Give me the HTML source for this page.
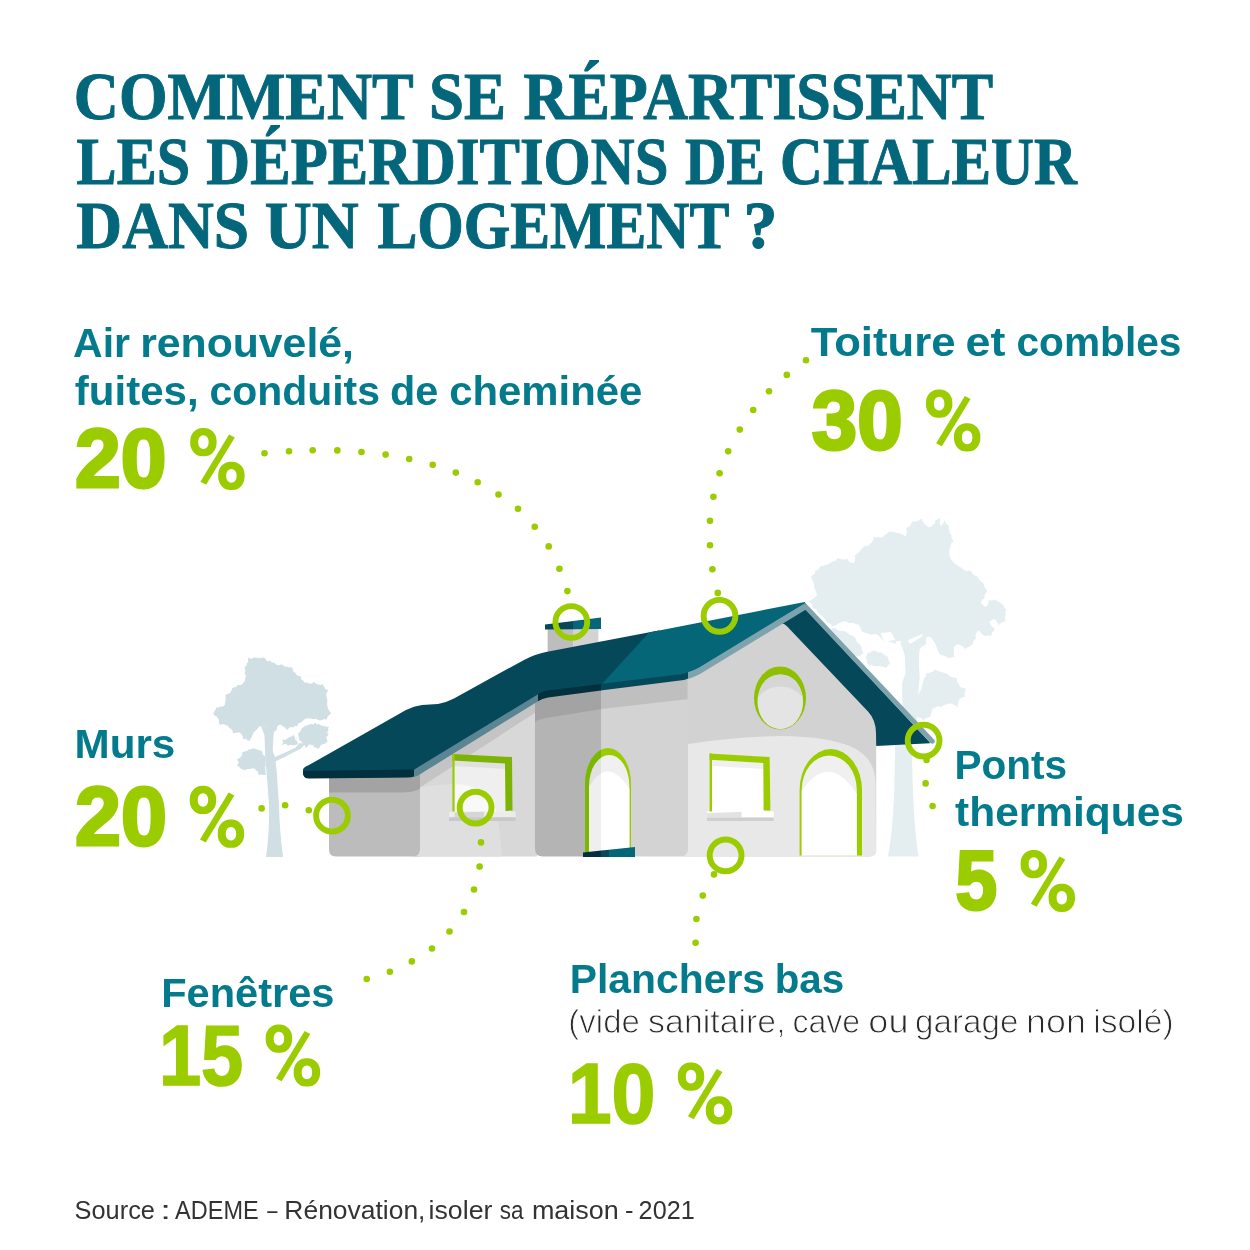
<!DOCTYPE html>
<html lang="fr"><head><meta charset="utf-8"><title>Comment se répartissent les déperditions de chaleur dans un logement ?</title>
<style>
html,body{margin:0;padding:0;background:#fff;}
body{width:1250px;height:1250px;overflow:hidden;font-family:"Liberation Sans",sans-serif;}
svg{display:block;will-change:transform;}
.title{font-family:"Liberation Serif",serif;font-weight:bold;font-size:66.6px;fill:#04667a;stroke:#04667a;stroke-width:1px;}
.label{font-family:"Liberation Sans",sans-serif;font-weight:bold;font-size:41.3px;fill:#047b8d;}
.num{font-family:"Liberation Sans",sans-serif;font-weight:bold;font-size:83px;fill:#9acc00;stroke:#9acc00;stroke-width:3px;}
.num2{font-family:"Liberation Sans",sans-serif;font-weight:bold;font-size:84.6px;fill:#9acc00;stroke:#9acc00;stroke-width:1.6px;}
.sub{font-family:"Liberation Sans",sans-serif;font-weight:normal;font-size:33px;fill:#2a2a2a;stroke:#fff;stroke-width:0.9px;}
.src{font-family:"Liberation Sans",sans-serif;font-weight:normal;font-size:26.7px;fill:#333;}
.pct{font-family:"Liberation Sans",sans-serif;font-weight:bold;font-size:70px;fill:none;stroke:none;}
</style></head><body>
<svg width="1250" height="1250" viewBox="0 0 1250 1250">
<rect width="1250" height="1250" fill="#fff"/>
<!-- right tree -->
<g fill="#e4edf0">
<path d="M814.0,587.7 L815.3,589.7 L815.9,592.0 L816.9,594.1 L816.5,596.1 L814.5,597.6 L812.5,599.1 L810.5,600.6 L807.9,600.9 L809.9,602.2 L811.7,603.8 L812.3,606.3 L813.4,608.4 L816.3,609.0 L817.1,611.4 L818.7,613.0 L820.1,614.9 L822.2,616.1 L823.6,618.0 L825.2,619.6 L826.7,621.5 L828.6,622.9 L830.7,624.1 L831.8,626.8 L834.3,625.8 L836.6,624.7 L838.9,623.3 L841.2,621.9 L844.1,621.3 L846.5,621.4 L848.7,623.0 L851.1,623.1 L853.5,623.1 L855.7,624.3 L858.3,624.6 L859.7,626.8 L861.0,629.1 L861.8,631.1 L863.9,632.3 L866.1,633.3 L868.5,633.5 L870.4,634.8 L873.0,634.5 L875.7,634.0 L878.3,635.2 L879.8,636.9 L881.5,638.5 L882.7,640.5 L885.1,641.3 L887.9,640.9 L890.2,642.1 L892.7,642.8 L895.1,644.1 L896.5,641.3 L899.1,640.7 L901.7,641.5 L902.4,643.7 L903.6,645.6 L905.2,647.2 L907.3,648.3 L908.8,650.1 L910.0,651.6 L912.1,651.0 L914.4,651.1 L916.5,650.4 L918.4,650.7 L920.2,649.0 L921.5,646.8 L923.9,645.6 L926.2,644.1 L925.9,641.6 L925.8,639.3 L926.7,636.8 L929.0,636.7 L931.7,637.6 L932.3,639.8 L934.1,641.4 L935.0,643.5 L936.0,645.6 L937.2,648.2 L938.2,650.9 L939.1,653.6 L941.2,654.9 L943.6,655.6 L946.0,656.3 L947.8,658.1 L950.2,657.8 L952.5,657.0 L955.0,657.2 L953.6,654.9 L953.8,652.5 L953.7,650.0 L953.9,647.5 L955.7,645.2 L958.3,644.1 L961.0,645.4 L963.4,647.1 L965.1,648.9 L967.1,647.5 L969.4,646.7 L971.1,644.9 L972.8,643.7 L973.5,640.8 L976.0,638.8 L975.5,635.9 L976.1,633.2 L978.1,630.4 L980.5,632.1 L982.4,634.4 L984.8,636.1 L987.9,635.4 L990.9,636.1 L991.7,633.8 L992.8,631.7 L994.8,629.8 L993.3,627.7 L991.5,625.8 L990.1,623.7 L989.3,621.4 L991.4,620.2 L993.9,619.1 L996.0,620.5 L997.4,622.7 L999.0,624.9 L1000.8,623.2 L1002.8,622.0 L1005.5,621.2 L1004.8,618.9 L1005.2,616.6 L1005.6,614.3 L1005.3,612.0 L1006.3,609.4 L1004.5,607.8 L1003.6,605.6 L1002.1,604.2 L1000.1,602.4 L997.7,601.4 L995.4,599.4 L993.0,599.9 L990.7,600.8 L988.1,599.9 L988.8,602.6 L987.6,604.8 L987.0,606.6 L984.2,606.4 L982.6,604.7 L980.8,602.3 L982.2,599.8 L984.4,598.2 L984.3,595.4 L986.2,593.1 L987.1,590.2 L984.9,588.3 L984.0,585.8 L983.2,583.1 L981.2,581.8 L979.4,580.3 L978.3,578.2 L977.0,576.2 L974.3,575.2 L972.3,573.3 L970.7,570.8 L968.0,570.8 L965.2,570.7 L962.9,569.1 L960.9,567.6 L958.8,566.2 L956.7,564.8 L954.4,563.4 L952.9,561.4 L951.1,559.6 L949.9,557.0 L949.3,554.4 L949.3,551.7 L949.9,549.1 L950.4,546.2 L951.2,543.4 L953.4,541.0 L951.7,538.6 L951.4,535.8 L950.0,533.6 L949.4,531.1 L948.7,528.7 L949.0,525.9 L946.8,524.4 L945.3,522.4 L944.3,520.0 L943.6,522.6 L942.2,524.8 L941.1,527.0 L940.6,524.8 L939.6,522.7 L940.1,520.4 L939.6,517.6 L937.7,519.4 L935.2,520.6 L935.0,523.5 L932.6,525.0 L931.3,526.6 L928.6,527.3 L926.7,526.0 L924.8,524.5 L923.6,522.4 L922.3,520.5 L921.5,518.5 L919.5,519.9 L917.4,521.0 L915.2,521.8 L912.3,521.4 L911.0,523.4 L910.3,525.9 L908.1,527.1 L905.9,528.7 L907.2,531.5 L906.3,534.1 L905.6,536.8 L903.3,535.1 L900.9,533.8 L898.5,533.0 L896.3,532.9 L894.2,532.0 L892.0,532.0 L889.8,531.4 L888.0,532.7 L886.4,534.3 L884.4,535.2 L882.7,536.9 L880.5,537.8 L878.3,537.1 L876.1,537.8 L873.8,536.7 L873.2,539.4 L872.3,542.1 L870.3,543.4 L868.7,545.2 L866.6,546.1 L864.1,546.3 L862.5,548.2 L860.6,549.8 L859.5,552.1 L856.8,553.8 L854.6,556.0 L855.1,558.5 L854.7,560.8 L853.8,563.0 L851.3,562.6 L849.1,561.7 L847.5,559.1 L845.1,559.5 L842.6,559.6 L840.2,559.1 L837.5,558.1 L835.8,560.8 L833.1,561.5 L830.6,562.7 L828.2,564.2 L825.6,565.0 L823.0,565.7 L820.5,566.0 L819.2,567.9 L818.1,569.9 L815.3,570.6 L815.1,573.4 L813.1,574.8 L811.3,576.3 L811.7,578.6 L812.7,580.8 L813.8,583.0 L814.1,585.3 Z"/>
<path d="M828.0,632.0 L829.9,633.4 L831.2,635.3 L832.9,636.7 L834.5,638.4 L836.2,639.9 L838.1,641.2 L839.0,643.5 L840.8,644.9 L842.3,646.6 L844.3,647.8 L845.7,649.7 L847.7,650.9 L848.5,653.3 L850.0,655.3 L852.6,654.3 L854.9,655.7 L857.3,656.3 L859.9,656.6 L861.7,654.2 L863.8,653.0 L862.2,650.9 L862.0,648.3 L861.1,646.2 L859.6,644.5 L858.0,642.9 L856.4,641.3 L855.7,639.0 L854.6,637.1 L852.4,635.6 L849.9,634.9 L847.9,633.2 L845.8,631.7 L843.3,631.1 L840.7,630.9 L838.1,630.5 L836.0,628.6 L833.0,627.6 L831.6,629.5 L829.9,630.9 Z"/>
<path d="M867.8,664.3 L870.5,664.9 L873.2,665.7 L875.7,666.4 L878.4,666.0 L881.0,666.5 L883.6,666.8 L886.5,668.1 L887.7,665.4 L889.9,663.4 L888.8,661.2 L888.3,658.8 L887.7,656.8 L884.9,655.2 L882.6,653.3 L880.5,652.0 L877.9,652.7 L876.1,650.8 L874.1,650.7 L872.0,651.3 L870.1,652.6 L867.9,652.9 L866.6,655.5 L865.7,657.8 L867.1,659.7 L866.9,662.2 Z"/>
<path d="M916.5,700.0 L916.4,702.3 L916.6,704.6 L916.0,706.9 L916.9,709.2 L917.2,711.5 L917.2,713.8 L916.4,715.8 L918.6,717.4 L921.4,718.1 L923.2,720.5 L925.1,718.5 L927.5,717.4 L930.1,717.0 L931.0,714.3 L931.6,711.6 L932.7,708.5 L935.3,707.4 L937.8,706.3 L941.0,706.9 L942.9,705.8 L945.0,704.8 L947.1,704.2 L949.3,703.6 L951.0,703.4 L953.5,704.6 L956.0,705.8 L958.0,708.3 L957.5,705.9 L958.1,703.7 L958.5,701.5 L959.3,699.3 L961.0,697.9 L963.1,697.1 L965.1,696.8 L964.3,694.2 L965.3,691.5 L965.5,688.5 L962.8,688.0 L960.4,687.0 L959.0,685.0 L958.1,682.8 L956.6,680.9 L956.7,678.1 L954.3,677.7 L951.9,677.2 L949.8,676.1 L948.0,674.4 L946.0,673.4 L943.8,672.8 L941.7,672.1 L939.5,671.6 L937.3,671.1 L935.5,669.5 L933.4,671.2 L931.0,672.2 L928.5,673.0 L926.0,673.2 L926.2,675.6 L924.9,677.6 L923.7,679.6 L923.3,682.0 L922.5,684.2 L921.5,686.4 L921.6,689.1 L920.2,691.1 L918.8,693.2 L918.1,695.5 L917.3,697.8 Z"/>
<path d="M900,642 L904.7,654.6 L905.6,673 L902,683.6 L903,722 L917,722 L917,708 L919.7,677.5 L918.8,663.4 L919.5,648 Z"/>
<path d="M880.500,633 L891,632 L895.500,640 L884,641.500 Z M907.500,640.500 L923,633.500 L921.500,637 L910,644 Z" fill="#fff"/>
<path d="M895,745 L912,745 Q912.5,820 918.5,856.5 L888,856.5 Q895,820 895,745 Z"/>
</g>
<!-- left tree -->
<g fill="#cfdfe4">
<path d="M244.3,667.5 L245.3,669.5 L245.3,671.5 L244.6,673.5 L245.8,675.5 L245.5,677.5 L244.9,679.5 L244.7,680.9 L243.3,682.7 L241.9,684.5 L239.9,685.1 L237.6,685.0 L236.3,687.1 L234.2,687.2 L232.2,688.2 L231.6,690.6 L230.4,692.4 L228.7,693.7 L226.3,694.3 L225.3,696.0 L225.7,698.1 L225.6,700.2 L225.0,702.4 L225.0,704.5 L223.0,706.4 L220.4,706.4 L218.2,707.7 L216.2,707.3 L215.8,709.6 L214.2,711.5 L213.3,713.3 L214.2,715.3 L216.4,716.5 L217.8,718.2 L219.0,720.0 L218.9,722.6 L219.8,725.1 L222.8,724.0 L225.3,724.7 L228.2,725.9 L229.1,727.9 L231.1,729.0 L232.6,730.6 L233.0,733.3 L235.2,732.9 L237.4,732.6 L239.5,732.6 L241.3,734.1 L242.9,736.6 L243.0,739.4 L245.4,738.5 L247.3,740.2 L250.0,740.9 L250.5,738.7 L251.8,737.2 L252.3,735.1 L253.3,733.3 L254.5,731.5 L256.4,730.1 L257.7,728.2 L259.4,726.6 L261.0,726.3 L263.4,726.7 L266.0,726.5 L267.1,729.0 L269.1,729.1 L271.2,729.9 L273.5,729.6 L275.9,731.2 L276.8,728.9 L277.3,726.4 L278.7,724.9 L281.7,724.8 L283.1,726.8 L285.4,727.6 L286.5,729.9 L288.5,728.6 L290.4,727.1 L293.0,727.6 L294.9,726.0 L297.2,726.2 L298.3,723.6 L300.9,722.5 L302.9,720.7 L305.1,718.9 L307.6,718.2 L310.6,718.5 L313.2,719.0 L315.9,718.8 L317.9,720.1 L320.2,720.5 L322.4,719.7 L324.6,719.0 L326.7,719.8 L327.4,717.1 L329.1,715.0 L331.3,713.6 L329.7,711.7 L328.5,709.6 L327.6,707.4 L327.1,705.0 L327.1,702.5 L327.5,700.5 L326.9,698.5 L326.6,696.4 L326.1,694.4 L326.9,692.4 L328.2,690.3 L325.5,689.3 L324.3,686.9 L322.7,684.3 L320.1,685.1 L317.9,684.5 L315.8,683.6 L314.0,681.7 L311.9,683.5 L309.6,683.7 L307.2,682.6 L304.8,683.1 L303.6,680.9 L301.3,679.5 L300.9,676.6 L298.6,675.8 L296.3,674.8 L295.3,672.7 L293.3,671.5 L292.8,668.8 L291.1,667.1 L288.9,667.4 L287.0,666.5 L284.8,666.7 L283.1,665.1 L281.1,664.6 L278.4,665.3 L276.1,664.6 L274.3,662.7 L271.7,662.6 L270.0,660.6 L267.0,661.2 L265.6,658.7 L263.5,657.3 L261.5,658.0 L259.5,657.9 L257.5,657.8 L255.5,657.8 L253.5,657.4 L251.4,658.9 L248.7,657.4 L248.0,659.4 L248.3,661.9 L246.7,663.5 L246.4,665.7 Z"/>
<path d="M303.5,726.9 L301.8,728.5 L300.7,730.6 L299.4,732.5 L298.0,733.8 L298.8,736.7 L299.0,739.8 L300.9,741.1 L302.3,742.8 L303.9,744.3 L305.2,746.0 L305.5,748.3 L306.1,750.6 L305.5,748.1 L307.5,746.8 L308.7,744.5 L310.7,744.8 L312.9,744.9 L314.2,747.2 L316.1,747.8 L318.4,749.1 L319.7,747.2 L320.8,744.9 L322.8,744.3 L324.9,743.7 L326.3,742.9 L327.5,741.0 L326.5,738.7 L326.6,736.7 L328.6,734.8 L327.0,732.5 L328.5,730.6 L328.1,728.5 L329.0,726.4 L326.8,726.9 L324.8,726.3 L322.8,725.9 L320.7,725.6 L319.0,724.1 L316.7,724.6 L314.9,722.5 L313.3,724.5 L311.0,724.0 L309.0,724.8 L307.1,725.6 L305.0,725.9 Z"/>
<path d="M281.9,745.8 L284.1,744.1 L286.2,743.8 L288.0,745.7 L290.1,744.8 L291.9,745.3 L294.4,745.2 L296.9,744.4 L300.1,744.6 L297.6,743.6 L297.3,741.2 L295.3,739.8 L294.8,737.5 L293.7,734.8 L291.8,736.4 L289.6,737.1 L287.5,738.3 L285.6,739.9 L282.3,739.4 L283.1,742.4 Z"/>
<path d="M237.0,765.5 L239.3,766.9 L241.2,768.7 L242.9,769.8 L245.3,769.9 L247.5,769.0 L249.8,768.9 L252.1,768.2 L255.0,768.7 L256.2,770.4 L257.9,771.8 L258.4,773.9 L258.9,775.2 L261.1,774.2 L263.6,775.0 L265.9,775.0 L265.4,772.9 L265.6,770.8 L265.2,768.6 L265.2,766.5 L265.9,764.4 L265.4,762.2 L265.7,760.1 L266.2,757.9 L265.1,756.0 L262.8,754.8 L262.5,752.4 L261.4,750.7 L259.3,750.2 L257.3,749.5 L255.2,749.1 L253.8,748.2 L251.5,748.9 L249.2,749.6 L247.1,750.8 L244.9,751.6 L242.3,751.9 L242.2,754.5 L241.2,756.5 L239.5,758.1 L236.9,759.5 L238.9,762.2 Z"/>
<path d="M266,857 L283,857 Q279.5,830 279,805.5 L276.5,769 L275.5,761.5 L288.5,755 L301,748.5 L305,744 L300,743 L295,748 L284,753 L275,757 L272.7,750.5 L273.6,734 L275.5,728 L261,726 L264.5,735.5 L265.3,758 L267.2,780 L269,805.5 Q269.5,835 266,857 Z"/>
</g>
<defs>
<clipPath id="cl"><rect x="570" y="740" width="31" height="120"/></clipPath>
<clipPath id="cr"><rect x="601" y="740" width="40" height="120"/></clipPath>
</defs>
<!-- chimney -->
<path d="M547.600,628 H573.500 V660 H547.600 Z" fill="#bdbdbd"/>
<path d="M573,628 H598.400 V655 H573 Z" fill="#d3d3d3"/>
<path d="M545,624.400 L573.500,621 V629.300 L545,629.600 Z" fill="#04485a"/>
<path d="M573,621 L601,617.600 V629 L573,629.300 Z" fill="#056678"/>
<!-- walls -->
<path d="M329,774 H421 V856.500 H336 Q329,856.500 329,849.500 Z" fill="#bcbcbc"/>
<path d="M329,774 H421 V788 Q415,792.500 400,792.500 H329 Z" fill="#a3a3a3"/>
<path d="M420,856.500 Q413,856.500 413,849.500 V856.500 Z" fill="#bcbcbc"/>
<path d="M420,772 L537,696 V856.500 H413 Q420,856.500 420,849 Z" fill="#d8d8d8"/>
<path d="M420,787.500 Q440,784 461,784 Q482,785 494,806 Q500,820 501.800,856.500 H413 Q420,856.500 420,849 Z" fill="#dfdfdf"/>
<path d="M420,772 L537,696 V711.500 L420,787.500 Z" fill="#c4c4c4"/>
<!-- tower -->
<path d="M535,696 L548,689 L602,682 V856.500 H543 Q535,856.500 535,848.500 Z" fill="#b4b4b4"/>
<path d="M601,682 L689,670 V856.500 H601 Z" fill="#d3d3d3"/>
<path d="M535,696 L548,689 L602,682 V709 L546,718 Q538,719.500 535,722 Z" fill="#a3a3a3"/>
<path d="M601,682 L689,670 V699 L601,709 Z" fill="#bfbfbf"/>
<!-- gable wall -->
<path d="M687.500,670 L700,665 L783,616 L794,625 L871,710.500 Q878,719.500 878,733 V744 H876.200 V850 Q876,856.500 869.500,856.500 H688 Z" fill="#d2d2d2"/>
<!-- bay -->
<path d="M688,744 Q735,736.500 782,736 Q828,736.500 852,747 Q874,757 875.500,781 L876,850 Q876,856.500 869.500,856.500 H680 Q688,856.500 688,848.500 Z" fill="#e8e8e8"/>
<!-- right dark roof -->
<path d="M805.600,609 L929.500,741.900 L930,743.300 L876.200,746 L876,733 Q875.900,719.800 868,711.400 L787.200,626.400 Q785,624 782.500,623.600 L800,608 Z" fill="#04485a"/>
<path d="M804.600,602.100 L934,739.600 Q936,742 933.500,743.500 Q931,744.500 929.500,742 L805.600,610.100 L802,607 Z" fill="#7fa3ad"/>
<!-- dark left roof (extends under light roof) -->
<path d="M303,770.500 Q302.500,768 308,765.600 L406,710 Q414,706 422,705 Q430,704.600 438,704 Q446,702.500 454,698.400 L500,673 L524,660 Q534,654.500 546,652 L660,630.200 L610,684 L548,691.600 Q542,692.500 538,695.200 L414,771 L410,777 L308,778 Q303,778 303,772 Z" fill="#04485a"/>
<!-- light roof -->
<path d="M649,632.400 L804.800,602 L805.400,604.500 L700,667.600 Q692,672 687.800,672.800 Q685,674 682,674.600 L601,685 Z" fill="#056678"/>
<path d="M804.800,603.200 L700,667.100 Q692,671.500 687.500,672.200 V679 Q692,678 700,674 L806,609.600 Z" fill="#7fa3ad"/>
<path d="M600.500,684.100 L682,674 Q685,673.600 688,672 V678.400 Q685,679.800 682,680.200 L600.500,690.500 Z" fill="#04485a"/>
<path d="M413.500,769.900 L538.500,693.900 V701 L418,775.500 Q416,776.500 413.500,777 Z" fill="#5b8593"/>
<path d="M303,771 L414,769.600 V776.500 Q412,777.500 408,777.600 L309,778.500 Q303,778.500 303,772.500 Z" fill="#02303f"/>
<path d="M538,694.200 Q542,691.500 548,690.600 L601,684 V690.400 L548,697.400 Q542,698.500 538,701.300 Z" fill="#02303f"/>
<!-- window 1 -->
<path d="M453.500,756 L510,759 L511,812 H453.500 Z" fill="#efefef"/>
<path d="M454.500,784.300 Q470,784 482,791 Q492,799 497,812 H454.500 Z" fill="#f9f9f9"/>
<path d="M454.500,760 L506,763 V769 L454.500,766 Z" fill="#e0e0e0"/>
<path d="M452.400,754 L512,757 L512.500,810.500 L505.500,811 L505,763.500 L452.400,760.500 Z" fill="#7cb305"/>
<path d="M452.400,754 H454.600 V813 H452.400 Z" fill="#9acc00"/>
<path d="M449,811.500 H515.600 V817.500 H449 Z" fill="#ececec"/>
<path d="M454.600,812.600 L484,811.800 V817.500 H454.600 Z" fill="#d6d6d6"/>
<path d="M449,817.200 H515.600 V821 H449 Z" fill="#c8c8c8"/>
<!-- tower door -->
<g clip-path="url(#cl)">
<path d="M585,853 V784 A23,36 0 0 1 631,784 V853 Z" fill="#7ab800"/>
<path d="M589,853 V786 A20.200,31 0 0 1 629.400,786 V853 Z" fill="#e0e0e0"/>
<path d="M589,853 V787 Q608,755 629.400,789 V853 Z" fill="#efefef"/>
</g>
<g clip-path="url(#cr)">
<path d="M585,853 V784 A23,36 0 0 1 631,784 V853 Z" fill="#9acc00"/>
<path d="M589,853 V786 A20.200,31 0 0 1 629.400,786 V853 Z" fill="#f0f0f0"/>
<path d="M589,853 V787 Q608,755 629.400,789 V853 Z" fill="#fff"/>
</g>
<path d="M583,852.400 L601.500,850.500 V857 H583 Z" fill="#02303f"/>
<path d="M601,850.500 L609.500,849.700 V857 H601 Z" fill="#04485a"/>
<path d="M609,849.700 L635,847 V857 H609 Z" fill="#056678"/>
<!-- oval window -->
<ellipse cx="780" cy="698" rx="26" ry="31.600" fill="#8fc000"/>
<ellipse cx="780.300" cy="701.900" rx="22.800" ry="27.300" fill="#e4e4e4"/>
<path d="M757.800,698 Q761,675 780.300,674.600 Q799,675 802.800,698 Q795,686.500 780.300,686.500 Q766,686.500 757.800,698 Z" fill="#d6d6d6"/>
<!-- bay window -->
<path d="M711,756 L766,759 V812 H711 Z" fill="#fff"/>
<path d="M711.500,760 L764,763 V769 L711.500,766 Z" fill="#f0f0f0"/>
<path d="M709.600,753.600 L769.600,757 L770.400,810.500 L763.600,810.500 L763.300,763 L709.600,759.800 Z" fill="#9acc00"/>
<path d="M709.600,753.600 H712 V813 H709.600 Z" fill="#9acc00"/>
<path d="M707,811.500 H773.600 V817.600 H707 Z" fill="#fff"/>
<path d="M707,813 L741.500,812 V817.600 H707 Z" fill="#e2e2e2"/>
<path d="M707,817.400 H773.600 V821 H707 Z" fill="#cfcfcf"/>
<!-- bay door -->
<path d="M799.600,855.500 V790 A31.200,41 0 0 1 862,790 V855.500 Z" fill="#9acc00"/>
<path d="M801.700,855.500 V790 A27.550,34.500 0 0 1 856.800,790 V855.500 Z" fill="#f0f0f0"/>
<path d="M801.700,855.500 V791 Q829,751 856.800,794 V855.500 Z" fill="#fff"/>
<g fill="#9acc00">
<!-- air -->
<circle cx="264.500" cy="453.300" r="3.300"/><circle cx="289" cy="451.300" r="3.300"/><circle cx="312.700" cy="450.200" r="3.300"/><circle cx="337.300" cy="450.400" r="3.300"/><circle cx="361.500" cy="452" r="3.300"/><circle cx="385.600" cy="454.600" r="3.300"/><circle cx="409.200" cy="459" r="3.300"/><circle cx="432.700" cy="464.800" r="3.300"/><circle cx="455.800" cy="472.600" r="3.300"/><circle cx="477.700" cy="482.200" r="3.300"/><circle cx="498.500" cy="494.500" r="3.300"/><circle cx="518" cy="508.800" r="3.300"/><circle cx="534.700" cy="526.800" r="3.300"/><circle cx="548.700" cy="546.400" r="3.300"/><circle cx="559.400" cy="568.800" r="3.300"/><circle cx="567.400" cy="591.100" r="3.300"/>
<!-- toiture -->
<circle cx="806" cy="360.200" r="3.300"/><circle cx="786.800" cy="374.900" r="3.300"/><circle cx="769" cy="391.200" r="3.300"/><circle cx="753.200" cy="410" r="3.300"/><circle cx="739.800" cy="429.600" r="3.300"/><circle cx="728.200" cy="451.200" r="3.300"/><circle cx="719.600" cy="473.300" r="3.300"/><circle cx="713.400" cy="496.800" r="3.300"/><circle cx="710" cy="520.800" r="3.300"/><circle cx="710" cy="545.300" r="3.300"/><circle cx="712.400" cy="569.300" r="3.300"/><circle cx="717.800" cy="592.900" r="3.300"/>
<!-- murs -->
<circle cx="261.600" cy="808.400" r="3.300"/><circle cx="285.100" cy="805.300" r="3.300"/><circle cx="308.800" cy="810.200" r="3.300"/>
<!-- fenetres -->
<circle cx="481" cy="842.400" r="3.300"/><circle cx="479.600" cy="866.600" r="3.300"/><circle cx="474" cy="889.500" r="3.300"/><circle cx="464" cy="912" r="3.300"/><circle cx="449.500" cy="931.500" r="3.300"/><circle cx="432" cy="948.500" r="3.300"/><circle cx="411.800" cy="961.400" r="3.300"/><circle cx="389.900" cy="971.700" r="3.300"/><circle cx="366.700" cy="979" r="3.300"/>
<!-- planchers -->
<circle cx="714" cy="874.400" r="3.300"/><circle cx="702.800" cy="895.600" r="3.300"/><circle cx="696.400" cy="919" r="3.300"/><circle cx="695.600" cy="942.800" r="3.300"/>
<!-- ponts -->
<circle cx="926.600" cy="760" r="3.300"/><circle cx="925.600" cy="783.400" r="3.300"/><circle cx="932.600" cy="806" r="3.300"/>
</g>
<g fill="none" stroke="#9acc00" stroke-width="5.900">
<circle cx="571.300" cy="622" r="15.900"/>
<circle cx="719.500" cy="615.800" r="15.900"/>
<circle cx="332" cy="815.700" r="15.900"/>
<circle cx="475.600" cy="807.600" r="15.900"/>
<circle cx="725.600" cy="855.400" r="15.900"/>
<circle cx="923.600" cy="740.600" r="15.900"/>
</g>
<defs><g id="pc" fill="#9acc00"><path fill-rule="evenodd" d="M12.2,-61.1 H14.2 A12.2,13.2 0 0 1 26.4,-47.9 V-46 A12.2,13.2 0 0 1 14.2,-32.8 H12.2 A12.2,13.2 0 0 1 0,-46 V-47.9 A12.2,13.2 0 0 1 12.2,-61.1 Z M13,-53.75 H13.4 A5,6 0 0 1 18.4,-47.75 V-46.15 A5,6 0 0 1 13.4,-40.15 H13 A5,6 0 0 1 8,-46.15 V-47.75 A5,6 0 0 1 13,-53.75 Z M40.2,-27.35 H42.2 A12.2,13.2 0 0 1 54.4,-14.15 V-12.25 A12.2,13.2 0 0 1 42.2,0.95 H40.2 A12.2,13.2 0 0 1 28,-12.25 V-14.15 A12.2,13.2 0 0 1 40.2,-27.35 Z M41,-20 H41.4 A5,6 0 0 1 46.4,-14 V-12.4 A5,6 0 0 1 41.4,-6.4 H41 A5,6 0 0 1 36,-12.4 V-14 A5,6 0 0 1 41,-20 Z"/><path d="M10.2,-7.3 L15.9,-4.3 L44.6,-51.5 L38.9,-54.5 Z"/></g></defs>
<text class="title" y="119"><tspan x="73.86" textLength="338.62" lengthAdjust="spacingAndGlyphs">COMMENT</tspan> <tspan x="428.99" textLength="76.98" lengthAdjust="spacingAndGlyphs">SE</tspan> <tspan x="523.57" textLength="469.56" lengthAdjust="spacingAndGlyphs">RÉPARTISSENT</tspan></text>
<text class="title" y="184"><tspan x="76.6" textLength="113.5" lengthAdjust="spacingAndGlyphs">LES</tspan> <tspan x="206.36" textLength="462.04" lengthAdjust="spacingAndGlyphs">DÉPERDITIONS</tspan> <tspan x="685.02" textLength="79.81" lengthAdjust="spacingAndGlyphs">DE</tspan> <tspan x="780.1" textLength="296.75" lengthAdjust="spacingAndGlyphs">CHALEUR</tspan></text>
<text class="title" y="248"><tspan x="76.31" textLength="172.88" lengthAdjust="spacingAndGlyphs">DANS</tspan> <tspan x="264.79" textLength="93.82" lengthAdjust="spacingAndGlyphs">UN</tspan> <tspan x="377.41" textLength="350.91" lengthAdjust="spacingAndGlyphs">LOGEMENT</tspan> <tspan x="743.61" textLength="34.03" lengthAdjust="spacingAndGlyphs">?</tspan></text>
<text class="label" y="357.2"><tspan x="73.11" textLength="56.9" lengthAdjust="spacingAndGlyphs">Air</tspan> <tspan x="140.15" textLength="213.76" lengthAdjust="spacingAndGlyphs">renouvelé,</tspan></text>
<text class="label" y="404.6"><tspan x="74.74" textLength="123.93" lengthAdjust="spacingAndGlyphs">fuites,</tspan> <tspan x="209.51" textLength="170.49" lengthAdjust="spacingAndGlyphs">conduits</tspan> <tspan x="389.95" textLength="48.3" lengthAdjust="spacingAndGlyphs">de</tspan> <tspan x="449.18" textLength="193.16" lengthAdjust="spacingAndGlyphs">cheminée</tspan></text>
<text class="num" y="487.4"><tspan x="75.08" textLength="91.41" lengthAdjust="spacingAndGlyphs">20</tspan></text>
<use href="#pc" x="190.2" y="489.1"/><text class="pct" x="190.2" y="489.1">%</text>
<text class="label" y="356.4"><tspan x="810.77" textLength="144.69" lengthAdjust="spacingAndGlyphs">Toiture</tspan> <tspan x="965.47" textLength="39.84" lengthAdjust="spacingAndGlyphs">et</tspan> <tspan x="1016.52" textLength="164.85" lengthAdjust="spacingAndGlyphs">combles</tspan></text>
<text class="num" y="448.9"><tspan x="811.83" textLength="90.83" lengthAdjust="spacingAndGlyphs">30</tspan></text>
<use href="#pc" x="925.95" y="450.6"/><text class="pct" x="925.95" y="450.6">%</text>
<text class="label" y="757.7"><tspan x="74.49" textLength="100.81" lengthAdjust="spacingAndGlyphs">Murs</tspan></text>
<text class="num" y="845.2"><tspan x="75.06" textLength="91.84" lengthAdjust="spacingAndGlyphs">20</tspan></text>
<use href="#pc" x="189.75" y="846.9"/><text class="pct" x="189.75" y="846.9">%</text>
<text class="label" y="778.7"><tspan x="954.4" textLength="112.69" lengthAdjust="spacingAndGlyphs">Ponts</tspan></text>
<text class="label" y="825.7"><tspan x="955.09" textLength="228.86" lengthAdjust="spacingAndGlyphs">thermiques</tspan></text>
<text class="num" y="909.3"><tspan x="955.45" textLength="41.6" lengthAdjust="spacingAndGlyphs">5</tspan></text>
<use href="#pc" x="1020.6" y="911"/><text class="pct" x="1020.6" y="911">%</text>
<text class="label" y="1006.8"><tspan x="161.23" textLength="173.13" lengthAdjust="spacingAndGlyphs">Fenêtres</tspan></text>
<text class="num2" y="1084.6"><tspan x="158.89" textLength="84.42" lengthAdjust="spacingAndGlyphs">15</tspan></text>
<use href="#pc" x="265.7" y="1085.6"/><text class="pct" x="265.7" y="1085.6">%</text>
<text class="label" y="993"><tspan x="569.68" textLength="195.37" lengthAdjust="spacingAndGlyphs">Planchers</tspan> <tspan x="774.71" textLength="69.51" lengthAdjust="spacingAndGlyphs">bas</tspan></text>
<text class="sub" y="1033.05"><tspan x="568.35" textLength="71.47" lengthAdjust="spacingAndGlyphs">(vide</tspan> <tspan x="648.12" textLength="137.5" lengthAdjust="spacingAndGlyphs">sanitaire,</tspan> <tspan x="792.39" textLength="67.77" lengthAdjust="spacingAndGlyphs">cave</tspan> <tspan x="868.39" textLength="40.07" lengthAdjust="spacingAndGlyphs">ou</tspan> <tspan x="915.09" textLength="103.31" lengthAdjust="spacingAndGlyphs">garage</tspan> <tspan x="1026.11" textLength="59.77" lengthAdjust="spacingAndGlyphs">non</tspan> <tspan x="1093.26" textLength="80.34" lengthAdjust="spacingAndGlyphs">isolé)</tspan></text>
<text class="num2" y="1122.6"><tspan x="567.7" textLength="87.86" lengthAdjust="spacingAndGlyphs">10</tspan></text>
<use href="#pc" x="677.8" y="1123.6"/><text class="pct" x="677.8" y="1123.6">%</text>
<text class="src" y="1219"><tspan x="74.61" textLength="80.33" lengthAdjust="spacingAndGlyphs">Source</tspan> <tspan x="160.3" textLength="10.68" lengthAdjust="spacingAndGlyphs">:</tspan> <tspan x="175.1" textLength="83.54" lengthAdjust="spacingAndGlyphs">ADEME</tspan> <tspan x="267.3" textLength="10.2" lengthAdjust="spacingAndGlyphs">–</tspan> <tspan x="284.37" textLength="141.09" lengthAdjust="spacingAndGlyphs">Rénovation,</tspan> <tspan x="428.55" textLength="63.86" lengthAdjust="spacingAndGlyphs">isoler</tspan> <tspan x="499.87" textLength="23.69" lengthAdjust="spacingAndGlyphs">sa</tspan> <tspan x="531.93" textLength="86.85" lengthAdjust="spacingAndGlyphs">maison</tspan> <tspan x="625.01" textLength="8.48" lengthAdjust="spacingAndGlyphs">-</tspan> <tspan x="638.62" textLength="56.09" lengthAdjust="spacingAndGlyphs">2021</tspan></text>
</svg>
</body></html>
